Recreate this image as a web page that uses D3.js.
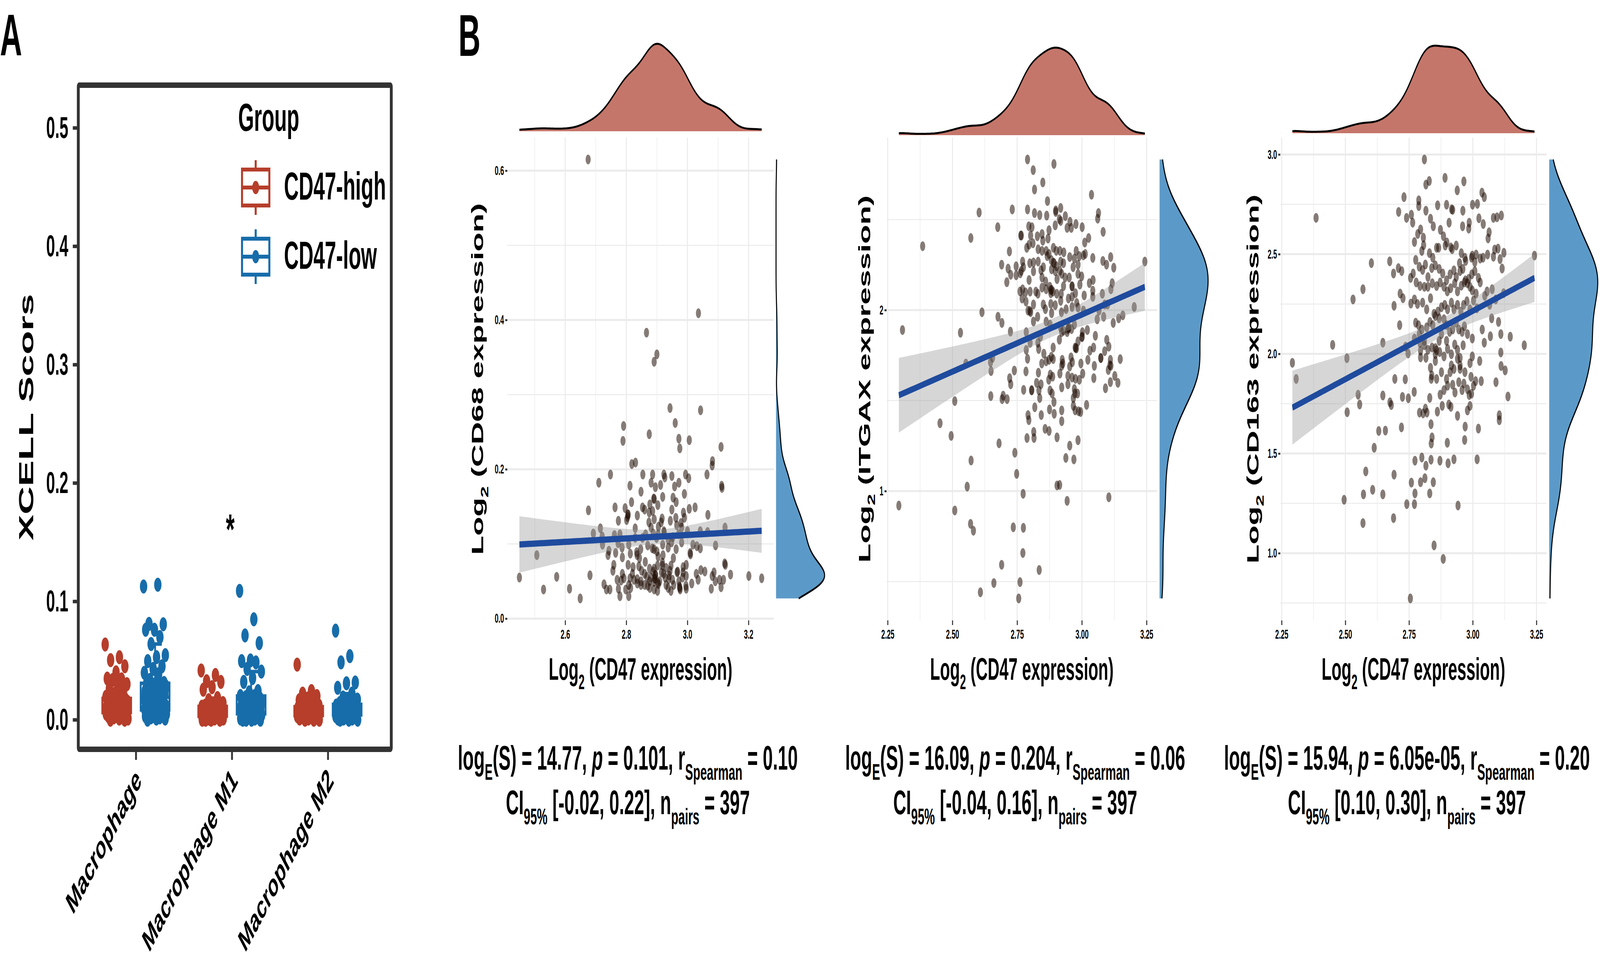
<!DOCTYPE html>
<html>
<head>
<meta charset="utf-8">
<script src="https://cdn.jsdelivr.net/npm/d3@7"></script>
<style>
  html, body { margin: 0; padding: 0; background: #fff; overflow: hidden; }
  svg { display: block; }
  text { font-family: "Liberation Sans", Arial, Helvetica, sans-serif; font-weight: bold; white-space: pre; }
</style>
</head>
<body>
<div id="chart"></div>
<script>
// ---------------- data: panel A (xCell scores) ----------------
const cellTypes = ["Macrophage", "Macrophage M1", "Macrophage M2"];
const groups = ["CD47-high", "CD47-low"];
const groupColors = ["#B63E2B", "#176DAA"];

const macroHigh = [0.0635, 0.0528, 0.0503, 0.0451, 0.040, 0.0347, 0.0341, 0.0336, 0.030, 0.028, 0.026, 0.0242, 0.022, 0.0193,
  0.018, 0.018, 0.017, 0.017, 0.016, 0.016, 0.015, 0.015, 0.014, 0.014, 0.013, 0.013, 0.012, 0.012, 0.011, 0.011,
  0.010, 0.010, 0.010, 0.009, 0.009, 0.009, 0.008, 0.008, 0.008, 0.007, 0.007, 0.007, 0.006, 0.006, 0.006, 0.005,
  0.005, 0.005, 0.004, 0.004, 0.004, 0.003, 0.003, 0.002, 0.002, 0.001, 0.001, 0.000, 0.000];
const macroLow = [0.1125, 0.1140, 0.0809, 0.0806, 0.0760, 0.0760, 0.0698, 0.0639, 0.0545, 0.0528, 0.0495, 0.0451, 0.0429,
  0.0396, 0.0385, 0.0336, 0.031, 0.030, 0.030, 0.029, 0.028, 0.028, 0.027, 0.026, 0.025, 0.025, 0.024, 0.023, 0.022,
  0.022, 0.021, 0.020, 0.019, 0.019, 0.018, 0.017, 0.016, 0.016, 0.015, 0.014, 0.013, 0.013, 0.012, 0.011, 0.011,
  0.010, 0.010, 0.009, 0.009, 0.008, 0.008, 0.007, 0.007, 0.006, 0.006, 0.005, 0.005, 0.004, 0.004, 0.003, 0.003,
  0.002, 0.002, 0.001, 0.001, 0.000];
const m1High = [0.0416, 0.0378, 0.0325, 0.0319, 0.0275, 0.0253, 0.0182, 0.0165, 0.014, 0.013, 0.012, 0.012, 0.011, 0.011,
  0.010, 0.010, 0.010, 0.009, 0.009, 0.009, 0.008, 0.008, 0.008, 0.007, 0.007, 0.007, 0.006, 0.006, 0.006, 0.005,
  0.005, 0.005, 0.004, 0.004, 0.004, 0.003, 0.003, 0.003, 0.002, 0.002, 0.002, 0.001, 0.001, 0.001, 0.000, 0.000,
  0.000, 0.000];
const m1Low = [0.1088, 0.0848, 0.0712, 0.0647, 0.0501, 0.0495, 0.0484, 0.0429, 0.0407, 0.0352, 0.0319, 0.0242, 0.0231,
  0.020, 0.020, 0.019, 0.018, 0.018, 0.017, 0.016, 0.016, 0.015, 0.014, 0.014, 0.013, 0.012, 0.012, 0.011, 0.011,
  0.010, 0.010, 0.009, 0.009, 0.008, 0.008, 0.007, 0.007, 0.006, 0.006, 0.005, 0.005, 0.004, 0.004, 0.003, 0.003,
  0.002, 0.002, 0.001, 0.001, 0.000, 0.000, 0.000, 0.000];
const m2High = [0.0465, 0.0242, 0.0220, 0.0200, 0.0180, 0.0165, 0.015, 0.013, 0.012, 0.012, 0.011, 0.011, 0.010, 0.010,
  0.009, 0.009, 0.009, 0.008, 0.008, 0.008, 0.007, 0.007, 0.007, 0.006, 0.006, 0.006, 0.005, 0.005, 0.005, 0.004,
  0.004, 0.004, 0.003, 0.003, 0.003, 0.002, 0.002, 0.002, 0.001, 0.001, 0.000, 0.000, 0.000];
const m2Low = [0.0752, 0.0537, 0.0484, 0.0314, 0.0308, 0.0270, 0.0220, 0.0187, 0.017, 0.015, 0.014, 0.013, 0.013, 0.012,
  0.012, 0.011, 0.011, 0.010, 0.010, 0.009, 0.009, 0.008, 0.008, 0.008, 0.007, 0.007, 0.006, 0.006, 0.006, 0.005,
  0.005, 0.005, 0.004, 0.004, 0.003, 0.003, 0.003, 0.002, 0.002, 0.001, 0.001, 0.001, 0.000, 0.000, 0.000];
const scoreData = [[macroHigh, macroLow], [m1High, m1Low], [m2High, m2Low]];
const yTicksA = [0, 0.1, 0.2, 0.3, 0.4, 0.5];

// ---------------- data: panel B (CD47 vs marker, log2 expression) ----------------
const cd68Pairs = [[2.675,0.615],[3.036,0.409],[2.866,0.383],[2.900,0.354],[2.891,0.344],[2.943,0.282],[3.043,0.279],[2.960,0.262],
  [2.791,0.258],[2.789,0.238],[2.875,0.247],[2.972,0.241],[3.006,0.239],[2.975,0.228],[3.110,0.230],[2.450,0.055],[2.507,0.085],
  [2.529,0.039],[2.818,0.207],[2.830,0.209],[3.082,0.211],[3.081,0.205],[2.748,0.193],[2.710,0.182],[2.854,0.193],[2.886,0.193],
  [2.923,0.193],[2.926,0.189],[2.949,0.191],[2.994,0.193],[3.004,0.188],[3.064,0.193],[2.812,0.178],[2.881,0.182],[2.895,0.176],
  [2.912,0.179],[2.958,0.177],[2.972,0.182],[3.112,0.178],[3.113,0.175],[2.848,0.170],[2.990,0.167],[2.891,0.160],[2.890,0.161],
  [2.919,0.163],[2.953,0.162],[2.963,0.156],[2.817,0.156],[2.903,0.152],[2.763,0.149],[2.796,0.148],[2.806,0.139],[2.805,0.140],
  [2.804,0.136],[2.836,0.138],[2.853,0.149],[2.860,0.146],[2.877,0.153],[2.875,0.142],[2.886,0.144],[2.949,0.146],[3.006,0.147],
  [3.025,0.149],[2.987,0.142],[2.990,0.135],[3.067,0.139],[2.676,0.145],[2.774,0.131],[2.801,0.132],[2.874,0.129],[2.891,0.133],
  [2.917,0.134],[2.944,0.131],[2.962,0.135],[2.914,0.129],[2.881,0.122],[2.905,0.123],[2.965,0.125],[2.979,0.128],[2.981,0.122],
  [2.715,0.121],[2.829,0.121],[2.692,0.114],[2.721,0.110],[2.761,0.112],[2.779,0.113],[2.863,0.113],[2.888,0.114],[2.904,0.113],
  [2.924,0.115],[2.923,0.117],[2.952,0.109],[2.971,0.113],[3.000,0.117],[3.042,0.117],[3.066,0.116],[3.123,0.122],[2.829,0.108],
  [2.853,0.108],[2.899,0.108],[2.937,0.106],[2.722,0.099],[2.773,0.101],[2.786,0.095],[2.808,0.099],[2.870,0.098],[2.885,0.094],
  [2.919,0.099],[2.948,0.102],[2.981,0.102],[3.018,0.099],[3.031,0.097],[3.042,0.094],[3.092,0.098],[2.937,0.095],[2.963,0.093],
  [2.743,0.091],[2.765,0.088],[2.740,0.085],[2.787,0.082],[2.813,0.087],[2.834,0.089],[2.847,0.093],[2.835,0.085],[2.900,0.090],
  [2.891,0.093],[2.904,0.083],[2.920,0.085],[2.954,0.081],[3.009,0.088],[3.010,0.086],[2.843,0.081],[2.759,0.072],[2.806,0.072],
  [2.822,0.069],[2.841,0.070],[2.862,0.076],[2.876,0.067],[2.891,0.067],[2.902,0.071],[2.918,0.075],[2.918,0.071],[2.946,0.071],
  [2.986,0.069],[2.996,0.072],[3.122,0.074],[3.124,0.072],[2.756,0.064],[2.787,0.060],[2.888,0.063],[2.895,0.059],[2.922,0.060],
  [2.943,0.064],[2.968,0.063],[2.966,0.062],[2.986,0.062],[2.996,0.057],[3.029,0.060],[3.044,0.065],[3.057,0.063],[3.087,0.062],
  [3.141,0.059],[3.201,0.057],[3.243,0.054],[2.572,0.056],[2.681,0.058],[2.770,0.052],[2.783,0.051],[2.792,0.054],[2.812,0.054],
  [2.825,0.052],[2.836,0.053],[2.848,0.050],[2.867,0.056],[2.876,0.050],[2.894,0.053],[2.893,0.054],[2.896,0.058],[2.890,0.049],
  [2.909,0.050],[2.927,0.055],[2.939,0.053],[2.951,0.052],[2.972,0.050],[2.984,0.055],[3.014,0.047],[3.035,0.052],[3.081,0.057],
  [3.091,0.050],[3.105,0.052],[3.118,0.052],[2.727,0.046],[2.735,0.039],[2.746,0.039],[2.774,0.040],[2.798,0.039],[2.808,0.045],
  [2.814,0.041],[2.836,0.047],[2.848,0.045],[2.860,0.045],[2.877,0.041],[2.891,0.039],[2.902,0.037],[2.903,0.048],[2.930,0.045],
  [2.937,0.041],[2.946,0.037],[2.975,0.041],[2.974,0.043],[2.976,0.039],[2.996,0.040],[2.995,0.044],[3.078,0.040],[3.110,0.042],
  [2.614,0.040],[2.649,0.027],[2.779,0.030],[2.808,0.030],[2.880,0.055],[2.905,0.046],[2.915,0.062],[2.860,0.060],[2.930,0.068],
  [2.850,0.064],[2.955,0.045],[2.870,0.044],[2.820,0.060],[2.940,0.058]];

const itgaxPairs = [[2.603,2.539],[2.731,2.556],[2.385,2.353],[2.571,2.398],[2.675,2.458],[2.764,2.412],[2.720,2.324],[2.690,2.251],
  [2.715,2.229],[2.725,2.195],[2.746,2.242],[2.746,2.192],[2.762,2.203],[2.710,2.154],[2.761,2.103],[2.614,1.988],[2.676,1.963],
  [2.691,1.929],[2.724,1.881],[2.307,1.890],[2.531,1.875],[2.552,1.705],[2.655,1.737],[2.647,1.712],[2.649,1.663],[2.739,1.666],
  [2.721,1.624],[2.725,1.590],[2.648,1.525],[2.696,1.527],[2.692,1.508],[2.711,1.508],[2.509,1.497],[2.452,1.375],[2.495,1.305],
  [2.680,1.264],[2.741,1.212],[2.572,1.169],[2.748,1.095],[2.557,1.025],[2.293,0.920],[2.509,0.893],[2.570,0.819],[2.581,0.781],
  [2.735,0.800],[2.660,0.492],[2.608,0.441],[2.761,0.497],[2.756,0.407],[2.690,0.593],
  [3.037,2.637],[3.064,2.536],[3.061,2.505],[3.082,2.432],[3.001,2.458],[3.011,2.373],[3.026,2.398],[3.042,2.288],[3.081,2.271],
  [3.095,2.251],[3.111,2.293],[3.123,2.234],[3.243,2.268],[3.117,2.149],[3.112,2.115],[3.079,2.090],[3.088,2.031],[3.099,2.031],
  [3.202,2.017],[3.066,1.997],[3.084,1.963],[3.121,1.929],[3.142,1.954],[3.158,1.971],[3.059,1.949],[3.052,1.858],[3.021,1.890],
  [3.043,2.166],[3.042,2.107],[3.042,2.073],[3.029,2.149],[3.009,2.081],[3.006,1.997],[3.096,1.836],[3.104,1.798],[3.088,1.773],
  [3.073,1.734],[3.045,1.793],[3.031,1.776],[3.023,1.725],[3.048,1.692],[3.046,1.624],[3.110,1.725],[3.112,1.692],[3.102,1.669],
  [3.127,1.636],[3.110,1.602],[3.139,1.598],[3.148,1.729],[3.091,1.568],[3.018,1.476],[3.104,0.966],[3.003,1.649],[2.990,1.615],
  [2.996,1.705],
  [2.771,2.268],[2.774,2.237],[2.766,2.412],[2.790,2.832],[2.812,2.773],[2.892,2.807],[2.817,2.666],[2.849,2.705],[2.867,2.602],
  [2.790,2.556],[2.817,2.536],[2.837,2.525],[2.864,2.522],[2.899,2.551],[2.899,2.542],[2.918,2.564],[2.936,2.519],[2.954,2.488],
  [2.977,2.475],[2.959,2.454],[2.943,2.454],[2.913,2.502],[2.918,2.492],[2.897,2.468],[2.873,2.441],[2.846,2.420],[2.828,2.408],
  [2.807,2.458],[2.795,2.463],[2.802,2.412],[2.869,2.395],[2.849,2.383],[2.811,2.369],[2.787,2.344],[2.796,2.361],[2.831,2.336],
  [2.846,2.327],[2.862,2.327],[2.873,2.310],[2.890,2.344],[2.901,2.327],[2.915,2.327],[2.930,2.319],[2.953,2.293],[2.971,2.285],
  [2.978,2.327],[2.990,2.298],[3.006,2.302],[3.013,2.310],[2.766,2.217],[2.799,2.259],[2.813,2.263],[2.831,2.268],[2.842,2.220],
  [2.851,2.237],[2.866,2.298],[2.882,2.276],[2.893,2.259],[2.902,2.242],[2.918,2.268],[2.929,2.259],[2.966,2.237],[2.985,2.251],
  [2.883,2.225],[2.915,2.217],[2.922,2.200],[2.985,2.200],[2.999,2.186],[2.951,2.180],[2.935,2.180],[2.904,2.171],[2.796,2.166],
  [2.813,2.214],[2.846,2.180],[2.860,2.158],[2.876,2.129],[2.888,2.102],[2.903,2.090],[2.920,2.090],[2.929,2.132],[2.962,2.132],
  [2.975,2.093],[2.992,2.141],[2.771,2.115],[2.782,2.098],[2.800,2.102],[2.822,2.102],[2.830,2.090],[2.846,2.124],[2.862,2.115],
  [2.880,2.093],[2.883,2.112],[2.784,2.047],[2.813,2.031],[2.851,2.031],[2.859,2.005],[2.880,2.034],[2.897,2.027],[2.918,2.051],
  [2.948,2.064],[2.962,2.073],[2.980,2.039],[2.792,1.997],[2.802,1.988],[2.883,1.983],[2.921,1.988],[2.939,2.005],[2.962,2.017],
  [2.985,2.014],[2.813,1.937],[2.829,1.963],[2.862,1.937],[2.877,1.920],[2.918,1.903],[2.929,1.886],[2.943,1.878],[2.950,1.903],
  [2.960,1.895],[2.971,1.920],[3.002,1.878],[3.001,1.853],[2.985,1.827],[2.974,1.793],[2.979,1.788],[2.913,1.836],[2.922,1.878],
  [2.840,1.853],[2.830,1.819],[2.833,1.785],[2.800,1.819],[2.785,1.780],[2.790,1.731],[2.784,1.661],[2.853,1.759],[2.845,1.705],
  [2.862,1.717],[2.873,1.725],[2.882,1.742],[2.889,1.729],[2.889,1.793],[2.924,1.725],[2.926,1.705],[2.922,1.692],[2.958,1.739],
  [2.963,1.712],[2.953,1.688],[2.832,1.654],[2.878,1.644],[2.872,1.615],[2.887,1.632],[2.915,1.649],[2.946,1.637],[2.962,1.627],
  [2.975,1.620],[2.825,1.598],[2.842,1.590],[2.775,1.559],[2.806,1.556],[2.834,1.556],[2.837,1.514],[2.877,1.556],[2.885,1.539],
  [2.892,1.492],[2.922,1.573],[2.946,1.590],[2.971,1.564],[2.973,1.539],[2.983,1.539],[2.967,1.514],[2.967,1.471],[2.974,1.446],
  [2.987,1.441],[2.995,1.437],[2.818,1.463],[2.792,1.420],[2.795,1.392],[2.843,1.420],[2.875,1.451],[2.893,1.427],[2.922,1.446],
  [2.922,1.386],[2.858,1.344],[2.873,1.332],[2.814,1.327],[2.815,1.293],[2.788,1.293],[2.904,1.297],[2.953,1.251],[2.985,1.281],
  [2.938,1.183],[2.969,1.175],[2.904,1.031],[2.914,1.034],[2.943,0.946],[2.773,0.985],[2.774,0.797],[2.772,0.658],[2.835,0.564],
  [2.785,1.878],[2.769,2.064],[2.806,1.558],[2.890,2.262],[2.948,1.900],[2.945,1.895],[3.000,1.850],[2.976,1.790],[2.880,2.110],
  [2.897,2.215],[2.962,2.130],[2.799,1.995],[3.073,1.736],[3.108,1.695]];

const cd163Pairs = [[2.810,2.975],[2.891,2.883],[2.816,2.849],[2.829,2.867],[2.939,2.820],[2.965,2.865],[2.730,2.786],[2.788,2.770],
  [2.788,2.741],[3.036,2.809],[3.045,2.786],[2.897,2.748],[3.018,2.752],[2.999,2.748],[2.917,2.725],[2.921,2.722],[2.709,2.712],
  [2.759,2.698],[2.816,2.718],[2.862,2.745],[2.961,2.718],[2.385,2.682],[2.740,2.682],[2.764,2.658],[2.834,2.678],[3.024,2.680],
  [3.081,2.682],[3.095,2.685],[3.112,2.694],[2.907,2.658],[2.960,2.640],[2.986,2.658],[2.984,2.628],[3.041,2.651],[2.784,2.601],
  [2.806,2.583],[2.795,2.624],[2.845,2.640],[2.873,2.622],[2.885,2.590],[2.898,2.559],[2.919,2.525],[2.866,2.532],[3.064,2.610],
  [3.060,2.579],[3.086,2.523],[3.099,2.528],[3.122,2.507],[3.107,2.475],[3.115,2.428],[3.058,2.498],[3.040,2.482],[3.081,2.487],
  [3.029,2.478],[3.013,2.498],[2.995,2.482],[2.972,2.466],[2.674,2.464],[2.602,2.455],[2.708,2.430],[2.721,2.415],[2.689,2.403],
  [2.569,2.324],[2.530,2.273],[2.715,2.302],[2.726,2.279],[2.691,2.241],[2.757,2.252],[2.713,2.144],[2.450,2.045],[2.506,1.978],
  [2.292,1.955],[2.307,1.874],[2.647,2.056],[2.746,2.002],[2.736,2.036],[2.694,1.874],[2.735,1.872],[2.770,1.809],[2.747,1.777],
  [2.724,1.784],[2.647,1.791],[2.675,1.757],[2.680,1.743],[2.550,1.795],[2.556,1.746],[2.507,1.707],[2.720,1.631],[2.657,1.615],
  [2.631,1.613],[2.613,1.529],[2.580,1.410],[2.495,1.268],[2.571,1.295],[2.607,1.318],[2.647,1.295],[2.569,1.151],[2.691,1.394],
  [2.689,1.176],[2.741,1.246],[2.771,1.246],[2.773,1.300],[2.759,1.354],[2.773,1.464],[2.800,1.480],[2.795,1.356],[2.812,1.376],
  [2.831,1.300],[2.845,1.356],[2.816,1.439],[2.836,1.469],[2.837,1.550],[2.840,1.581],[2.836,1.647],[2.871,1.464],[2.900,1.554],
  [2.903,1.451],[2.926,1.471],[2.968,1.568],[2.970,1.635],[3.017,1.471],[3.022,1.625],[2.848,1.039],[2.884,0.971],[2.755,0.773],
  [2.942,1.239],[3.104,1.692],[3.104,1.667],[3.138,1.786],[3.091,1.858],[3.111,1.939],[3.127,1.917],[3.110,2.007],[3.110,2.099],
  [3.101,2.160],[3.147,2.086],[3.202,2.043],[3.242,2.493],[3.121,2.304],[3.045,2.056],[3.033,1.863],[3.027,1.964],[3.037,2.122],
  [3.074,2.178],[3.069,2.088],[2.986,1.793],[2.995,1.800],[2.989,1.739],[2.979,1.716],[2.965,1.851],[2.940,1.689],[2.914,1.734],
  [2.906,1.746],[2.880,1.739],[2.872,1.795],[2.861,1.710],[2.831,1.779],[2.820,1.705],[2.805,1.701],[2.791,1.705],[2.814,1.725],
  [2.834,1.930],[2.837,1.874],[2.816,1.980],[2.795,1.982],[2.795,2.016],[2.839,1.892],[2.858,2.018],[2.853,2.029],[2.853,1.964],
  [2.940,1.975],[2.950,1.924],[2.969,1.908],[2.993,1.885],[2.911,1.908],[2.897,1.874],[2.877,1.908],[2.858,1.874],[2.887,1.818],
  [2.901,1.840],[2.921,1.845],[2.930,1.806],[2.945,1.858],[2.958,1.818],[2.979,1.822],[3.003,1.840],[3.011,1.863],[2.916,1.942],
  [2.926,1.924],[2.950,1.942],[2.989,1.953],[2.998,1.987],
  [2.771,2.561],[2.800,2.516],[2.807,2.545],[2.830,2.505],[2.843,2.482],[2.858,2.532],[2.892,2.543],[2.914,2.534],[2.935,2.543],
  [2.955,2.505],[2.969,2.482],[2.998,2.493],[3.008,2.460],[2.948,2.455],[2.776,2.471],[2.790,2.437],[2.803,2.421],[2.814,2.448],
  [2.839,2.430],[2.853,2.444],[2.868,2.426],[2.882,2.403],[2.897,2.369],[2.911,2.399],[2.926,2.419],[2.935,2.385],[2.950,2.415],
  [2.961,2.426],[2.971,2.369],[2.984,2.376],[2.996,2.399],[3.008,2.415],[3.022,2.381],[3.029,2.358],[2.766,2.403],[2.824,2.385],
  [2.756,2.381],[2.778,2.358],[2.793,2.340],[2.810,2.336],[2.824,2.336],[2.841,2.354],[2.858,2.340],[2.872,2.358],[2.887,2.336],
  [2.900,2.313],[2.913,2.329],[2.929,2.354],[2.940,2.313],[2.955,2.342],[2.967,2.358],[2.979,2.354],[2.989,2.336],[2.998,2.318],
  [3.013,2.302],[3.056,2.313],[3.076,2.324],[2.771,2.273],[2.783,2.250],[2.803,2.257],[2.819,2.223],[2.834,2.279],[2.848,2.201],
  [2.863,2.212],[2.877,2.234],[2.890,2.246],[2.901,2.223],[2.916,2.257],[2.926,2.223],[2.940,2.246],[2.953,2.212],[2.964,2.246],
  [2.977,2.264],[2.989,2.223],[3.003,2.268],[3.016,2.228],[3.066,2.246],[3.090,2.273],[3.047,2.291],[2.776,2.156],[2.787,2.144],
  [2.800,2.122],[2.819,2.133],[2.832,2.160],[2.843,2.144],[2.853,2.189],[2.868,2.178],[2.887,2.174],[2.897,2.144],[2.909,2.110],
  [2.921,2.122],[2.935,2.156],[2.945,2.122],[2.958,2.110],[2.967,2.138],[2.979,2.099],[2.998,2.077],[2.771,2.077],[2.790,2.099],
  [2.810,2.065],[2.868,2.065],[2.877,2.099],[2.897,2.065],[2.793,2.054],[2.810,2.043],[2.824,2.020],[2.840,2.032],[2.853,1.998],
  [2.870,2.009],[2.887,1.987],[2.901,2.025],[2.916,1.998],[2.929,2.047],[2.940,2.020],[2.950,1.980],[2.962,2.043]];

const markerGenes = ["CD68", "ITGAX", "CD163"];
const xTicksB = [[2.6, 2.8, 3.0, 3.2], [2.25, 2.5, 2.75, 3.0, 3.25], [2.25, 2.5, 2.75, 3.0, 3.25]];
const xMinorB = [[2.5, 2.7, 2.9, 3.1], [2.375, 2.625, 2.875, 3.125], [2.375, 2.625, 2.875, 3.125]];
const yTicksB = [[0, 0.2, 0.4, 0.6], [1, 2], [1.0, 1.5, 2.0, 2.5, 3.0]];
const yMinorB = [[0.1, 0.3, 0.5], [0.5, 1.5, 2.5], [0.75, 1.25, 1.75, 2.25, 2.75]];
const xFmtB = [".1f", ".2f", ".2f"];
const yFmtB = [".1f", "d", ".1f"];
const logBF = ["14.77", "16.09", "15.94"];
const pValues = ["0.101", "0.204", "6.05e-05"];
const rhoValues = ["0.10", "0.06", "0.20"];
const ciValues = ["[-0.02, 0.22]", "[-0.04, 0.16]", "[0.10, 0.30]"];
const nPairs = ["397", "397", "397"];

// ---------------- layout ----------------
const W = 7847, H = 2465;
const FONT = "'Liberation Sans', Arial, Helvetica, sans-serif";
// the drawing is laid out in 7847 x 2465 units and stretched to the window
const svg = d3.select("#chart").append("svg")
  .attr("viewBox", `0 0 ${W} ${H}`)
  .attr("preserveAspectRatio", "none")
  .style("width", "100vw").style("height", "100vh")
  .style("background", "#fff");

// text with subscripts: parts = [{t, sub, it}]
function rich(sel, parts, size) {
  let shift = 0;
  parts.forEach(p => {
    const target = p.sub ? size * 0.3 : 0;
    const ts = sel.append("tspan")
      .attr("dy", target - shift)
      .attr("font-size", p.sub ? size * 0.66 : size)
      .text(p.t);
    if (p.it) ts.attr("font-style", "italic");
    shift = target;
  });
}

// ================= Panel A =================
const A = {left: 384, right: 1919, top: 218, bottom: 1918};
const xA = d3.scaleLinear().domain([0.4, 3.66]).range([A.left, A.right]);
const yA = d3.scaleLinear().domain([-0.025, 0.536]).range([A.bottom, A.top]);
const gA = svg.append("g");

svg.append("text").attr("x", 0).attr("y", 141).attr("font-size", 150).text("A");

const yAxisA = gA.append("g").attr("transform", `translate(${A.left},0)`)
  .call(d3.axisLeft(yA).tickValues(yTicksA).tickFormat(d3.format(".1f")).tickSize(27).tickPadding(22));
const xAxisA = gA.append("g").attr("transform", `translate(0,${A.bottom})`)
  .call(d3.axisBottom(xA).tickValues([1, 2, 3]).tickFormat(d => cellTypes[d - 1]).tickSize(27));
[yAxisA, xAxisA].forEach(ax => {
  ax.select(".domain").remove();
  ax.selectAll("line").attr("stroke", "#333").attr("stroke-width", 9);
  ax.selectAll("text").attr("fill", "#000").attr("font-family", FONT).attr("font-weight", "bold");
});
yAxisA.selectAll("text").attr("font-size", 78);
xAxisA.selectAll("text")
  .attr("font-size", 82)
  .attr("text-anchor", "end")
  .attr("y", 0).attr("dy", 0)
  .attr("transform", "translate(32,84) rotate(-45)");

gA.append("text")
  .attr("transform", `translate(163,${(A.top + A.bottom) / 2}) rotate(-90)`)
  .attr("text-anchor", "middle").attr("font-size", 100).text("XCELL Scors");

function boxStats(v) {
  const s = v.slice().sort(d3.ascending);
  const q1 = d3.quantileSorted(s, 0.25), med = d3.quantileSorted(s, 0.5), q3 = d3.quantileSorted(s, 0.75);
  const iqr = q3 - q1;
  return {q1, med, q3,
    lo: d3.min(s.filter(d => d >= q1 - 1.5 * iqr)),
    hi: d3.max(s.filter(d => d <= q3 + 1.5 * iqr))};
}

const dodge = [-0.2, 0.2];
const boxHalf = xA(0.15) - xA(0);
const capHalf = xA(0.07) - xA(0);
scoreData.forEach((pair, i) => {
  pair.forEach((vals, g) => {
    const col = groupColors[g];
    const cx = xA(i + 1 + dodge[g]);
    const st = boxStats(vals);
    const bg = gA.append("g").attr("stroke", col).attr("stroke-width", 9).attr("fill", "none");
    bg.append("line").attr("x1", cx).attr("x2", cx).attr("y1", yA(st.hi)).attr("y2", yA(st.q3));
    bg.append("line").attr("x1", cx).attr("x2", cx).attr("y1", yA(st.lo)).attr("y2", yA(st.q1));
    bg.append("line").attr("x1", cx - capHalf).attr("x2", cx + capHalf).attr("y1", yA(st.hi)).attr("y2", yA(st.hi));
    bg.append("line").attr("x1", cx - capHalf).attr("x2", cx + capHalf).attr("y1", yA(st.lo)).attr("y2", yA(st.lo));
    bg.append("rect").attr("x", cx - boxHalf).attr("width", 2 * boxHalf)
      .attr("y", yA(st.q3)).attr("height", yA(st.q1) - yA(st.q3)).attr("fill", "#fff");
    bg.append("line").attr("x1", cx - boxHalf).attr("x2", cx + boxHalf).attr("y1", yA(st.med)).attr("y2", yA(st.med));
    // jittered points (deterministic low-discrepancy jitter)
    gA.append("g").selectAll("circle").data(vals).join("circle")
      .attr("cx", (d, k) => cx + (xA(((k * 0.618034) % 1 - 0.5) * 0.24) - xA(0)))
      .attr("cy", d => yA(d))
      .attr("r", 18)
      .attr("fill", col);
  });
});

gA.append("text").attr("x", xA(2) - 8).attr("y", 1392).attr("text-anchor", "middle")
  .attr("font-size", 110).text("*");

// legend
const leg = gA.append("g");
leg.append("text").attr("x", 1168).attr("y", 335).attr("font-size", 100).text("Group");
groups.forEach((name, g) => {
  const cy = 480 + g * 177, cx = 1254;
  const k = leg.append("g").attr("stroke", groupColors[g]).attr("stroke-width", 10).attr("fill", "none");
  k.append("line").attr("x1", cx).attr("x2", cx).attr("y1", cy - 70).attr("y2", cy + 70);
  k.append("rect").attr("x", cx - 67).attr("y", cy - 46).attr("width", 134).attr("height", 92).attr("fill", "#fff");
  k.append("line").attr("x1", cx - 67).attr("x2", cx + 67).attr("y1", cy).attr("y2", cy);
  leg.append("circle").attr("cx", cx).attr("cy", cy).attr("r", 17).attr("fill", groupColors[g]);
  leg.append("text").attr("x", 1393).attr("y", cy + 31).attr("font-size", 100).text(name);
});

gA.append("rect").attr("x", A.left).attr("y", A.top)
  .attr("width", A.right - A.left).attr("height", A.bottom - A.top)
  .attr("fill", "none").attr("stroke", "#333").attr("stroke-width", 14).attr("rx", 4);

// ================= Panel B =================
svg.append("text").attr("x", 2248).attr("y", 143).attr("font-size", 150).text("B");

const panelsB = [
  {left: 2488, right: 3795, titleX: 2341, statX: 3079, topBase: 336, rightBase: 3806},
  {left: 4348, right: 5675, titleX: 4239, statX: 4979, topBase: 346, rightBase: 5687},
  {left: 6279, right: 7585, titleX: 6144, statX: 6900, topBase: 341, rightBase: 7598}
];
const pairsB = [cd68Pairs, itgaxPairs, cd163Pairs];
const PB = {top: 352, bottom: 1588, densH: 224, densW: 238};

function expanded(ext) { const d = (ext[1] - ext[0]) * 0.05; return [ext[0] - d, ext[1] + d]; }

function kde(vals, grid) {
  const s = vals.slice().sort(d3.ascending);
  const iqr = d3.quantileSorted(s, 0.75) - d3.quantileSorted(s, 0.25);
  const bw = 0.9 * Math.min(d3.deviation(vals), iqr / 1.34) * Math.pow(vals.length, -0.2);
  const c = 1 / (bw * Math.sqrt(2 * Math.PI));
  return grid.map(g => [g, c * d3.mean(vals, v => Math.exp(-0.5 * ((g - v) / bw) ** 2))]);
}
function gridOf(ext, n) { return d3.range(n + 1).map(i => ext[0] + (ext[1] - ext[0]) * i / n); }

pairsB.forEach((pairs, p) => {
  const L = panelsB[p];
  const xs = pairs.map(d => d[0]), ys = pairs.map(d => d[1]);
  const xExt = d3.extent(xs), yExt = d3.extent(ys);
  const x = d3.scaleLinear().domain(expanded(xExt)).range([L.left, L.right]);
  const y = d3.scaleLinear().domain(expanded(yExt)).range([PB.bottom, PB.top]);
  const g = svg.append("g");

  // grid
  g.append("g").selectAll("line").data(xMinorB[p]).join("line")
    .attr("x1", d => x(d)).attr("x2", d => x(d)).attr("y1", PB.top).attr("y2", PB.bottom)
    .attr("stroke", "#EBEBEB").attr("stroke-width", 2.5);
  g.append("g").selectAll("line").data(yMinorB[p]).join("line")
    .attr("y1", d => y(d)).attr("y2", d => y(d)).attr("x1", L.left).attr("x2", L.right)
    .attr("stroke", "#EBEBEB").attr("stroke-width", 2.5);
  g.append("g").selectAll("line").data(xTicksB[p]).join("line")
    .attr("x1", d => x(d)).attr("x2", d => x(d)).attr("y1", PB.top).attr("y2", PB.bottom)
    .attr("stroke", "#EBEBEB").attr("stroke-width", 5);
  g.append("g").selectAll("line").data(yTicksB[p]).join("line")
    .attr("y1", d => y(d)).attr("y2", d => y(d)).attr("x1", L.left).attr("x2", L.right)
    .attr("stroke", "#EBEBEB").attr("stroke-width", 5);

  // axes
  const ax = g.append("g").attr("transform", `translate(0,${PB.bottom})`)
    .call(d3.axisBottom(x).tickValues(xTicksB[p]).tickFormat(d3.format(xFmtB[p])).tickSize(12).tickPadding(12));
  const ay = g.append("g").attr("transform", `translate(${L.left},0)`)
    .call(d3.axisLeft(y).tickValues(yTicksB[p]).tickFormat(d3.format(yFmtB[p])).tickSize(10).tickPadding(6));
  [ax, ay].forEach(a => {
    a.select(".domain").remove();
    a.selectAll("line").attr("stroke", "#333").attr("stroke-width", 5);
    a.selectAll("text").attr("font-size", 33).attr("fill", "#000").attr("font-family", FONT).attr("font-weight", "bold");
  });

  // points
  g.append("g").selectAll("circle").data(pairs).join("circle")
    .attr("cx", d => x(d[0])).attr("cy", d => y(d[1])).attr("r", 12.5)
    .attr("fill", "#210F06").attr("fill-opacity", 0.55);

  // linear fit with 95% band
  const n = pairs.length, xm = d3.mean(xs), ym = d3.mean(ys);
  const sxx = d3.sum(xs, v => (v - xm) ** 2);
  const b = d3.sum(pairs, d => (d[0] - xm) * (d[1] - ym)) / sxx, a0 = ym - b * xm;
  const se = Math.sqrt(d3.sum(pairs, d => (d[1] - a0 - b * d[0]) ** 2) / (n - 2));
  const fit = gridOf(xExt, 80).map(v => {
    const h = 1.966 * se * Math.sqrt(1 / n + (v - xm) ** 2 / sxx);
    return {x: v, y: a0 + b * v, lo: a0 + b * v - h, hi: a0 + b * v + h};
  });
  g.append("path").datum(fit)
    .attr("d", d3.area().x(d => x(d.x)).y0(d => y(d.lo)).y1(d => y(d.hi)))
    .attr("fill", "#999").attr("fill-opacity", 0.4);
  g.append("path").datum(fit)
    .attr("d", d3.line().x(d => x(d.x)).y(d => y(d.y)))
    .attr("fill", "none").attr("stroke", "#1F4B9E").attr("stroke-width", 16);

  // marginal densities
  const dx = kde(xs, gridOf(xExt, 200));
  const hx = d3.scaleLinear().domain([0, d3.max(dx, d => d[1])]).range([L.topBase, L.topBase - PB.densH]);
  g.append("path").datum(dx)
    .attr("d", d3.area().x(d => x(d[0])).y0(L.topBase).y1(d => hx(d[1])))
    .attr("fill", "#C5766A");
  g.append("path").datum(dx)
    .attr("d", d3.line().x(d => x(d[0])).y(d => hx(d[1])))
    .attr("fill", "none").attr("stroke", "#000").attr("stroke-width", 5);

  const dy = kde(ys, gridOf(yExt, 200));
  const wy = d3.scaleLinear().domain([0, d3.max(dy, d => d[1])]).range([L.rightBase, L.rightBase + PB.densW]);
  g.append("path").datum(dy)
    .attr("d", d3.area().y(d => y(d[0])).x0(L.rightBase).x1(d => wy(d[1])))
    .attr("fill", "#5B9AC8");
  g.append("path").datum(dy)
    .attr("d", d3.line().y(d => y(d[0])).x(d => wy(d[1])))
    .attr("fill", "none").attr("stroke", "#000").attr("stroke-width", 5);

  // titles
  const midX = (L.left + L.right) / 2, midY = (PB.top + PB.bottom) / 2;
  rich(g.append("text").attr("x", midX).attr("y", 1740).attr("text-anchor", "middle"),
    [{t: "Log"}, {t: "2", sub: true}, {t: " (CD47 expression)"}], 80);
  rich(g.append("text").attr("transform", `translate(${L.titleX + 29},${midY}) rotate(-90)`).attr("text-anchor", "middle"),
    [{t: "Log"}, {t: "2", sub: true}, {t: ` (${markerGenes[p]} expression)`}], 80);

  // statistics caption
  rich(g.append("text").attr("x", L.statX).attr("y", 1970).attr("text-anchor", "middle"),
    [{t: "log"}, {t: "E", sub: true}, {t: `(S) = ${logBF[p]}, `}, {t: "p", it: true},
     {t: ` = ${pValues[p]}, r`}, {t: "Spearman", sub: true}, {t: ` = ${rhoValues[p]}`}], 88);
  rich(g.append("text").attr("x", L.statX).attr("y", 2084).attr("text-anchor", "middle"),
    [{t: "CI"}, {t: "95%", sub: true}, {t: ` ${ciValues[p]}, n`}, {t: "pairs", sub: true}, {t: ` = ${nPairs[p]}`}], 88);
});
</script>
</body>
</html>
